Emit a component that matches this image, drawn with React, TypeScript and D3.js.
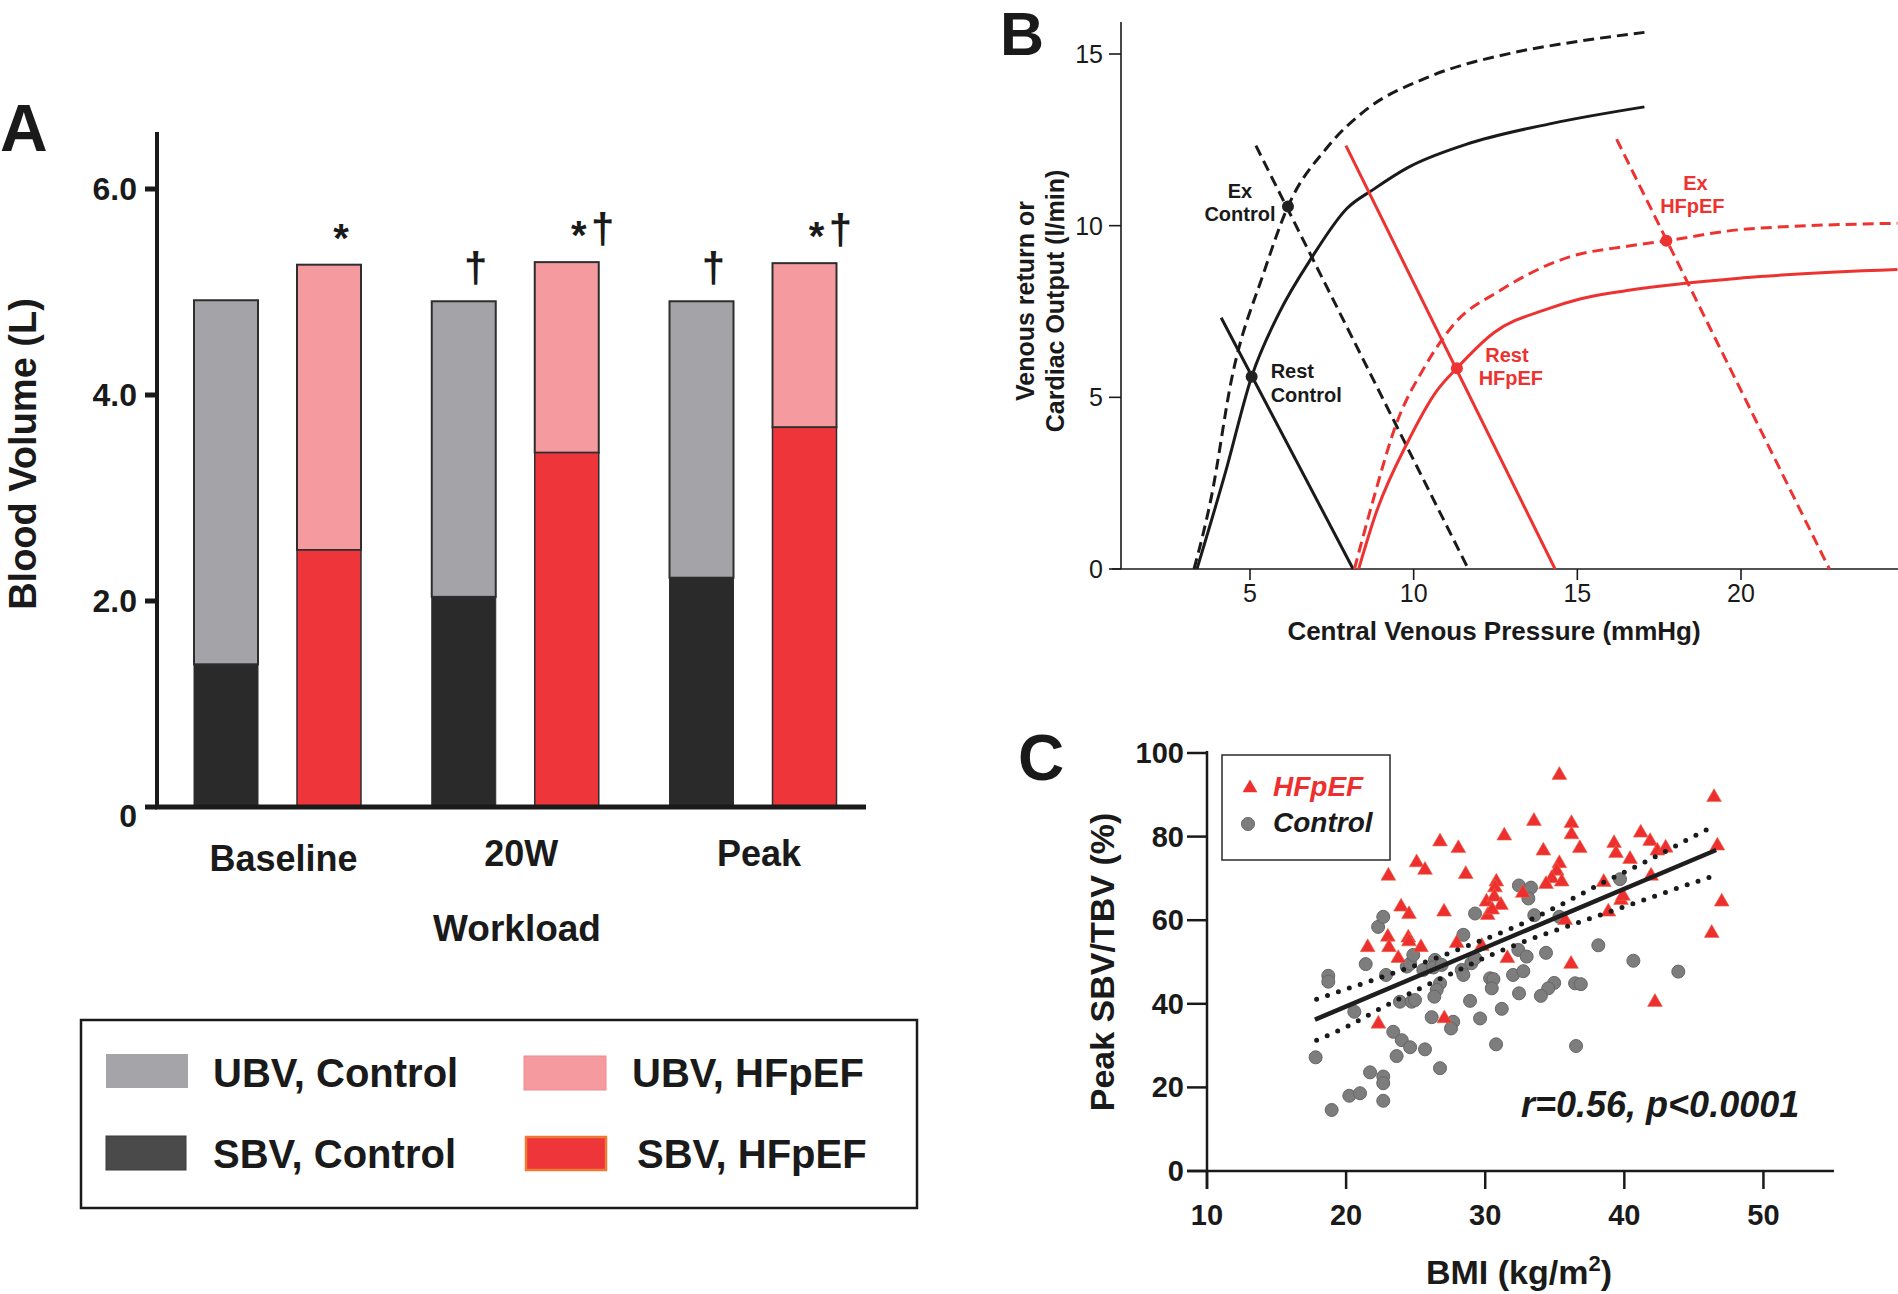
import React from "react";
import * as d3 from "d3";

const W = 1898;
const H = 1294;
const FONT = "'Liberation Sans', Arial, Helvetica, sans-serif";

// ---------------- Panel A data ----------------
const workloads = ["Baseline", "20W", "Peak"];
const controlTotal = [4.92, 4.91, 4.91];
const controlSBV = [1.385, 2.04, 2.226];
const hfpefTotal = [5.265, 5.29, 5.28];
const hfpefSBV = [2.495, 3.44, 3.686];
const controlMarks = ["", "†", "†"];
const hfpefMarks = ["*", "*†", "*†"];
const volumeTicks = [0, 2, 4, 6];
const volumeTickLabels = ["0", "2.0", "4.0", "6.0"];
const legendALabels = ["UBV, Control", "SBV, Control", "UBV, HFpEF", "SBV, HFpEF"];

// ---------------- Panel B data ----------------
const cvpTicks = [5, 10, 15, 20];
const coTicks = [0, 5, 10, 15];
const restControlCF: [number, number][] = [
  [3.38, 0], [4.26, 2.85], [5.05, 5.6], [5.88, 7.44], [6.9, 9.09], [7.96, 10.5],
  [8.76, 11.05], [9.82, 11.69], [11.58, 12.36], [14.23, 12.98], [17.05, 13.46],
];
const exControlCF: [number, number][] = [
  [3.29, 0], [3.82, 2.1], [4.44, 5.54], [5.41, 8.6], [6.16, 10.56], [7.35, 12.27],
  [8.58, 13.4], [10.35, 14.29], [13.0, 15.03], [14.76, 15.33], [17.05, 15.63],
];
const restHfpefCF: [number, number][] = [
  [8.32, 0], [8.85, 1.63], [9.82, 3.7], [10.7, 5.18], [11.32, 5.85], [12.46, 6.89],
  [14.05, 7.56], [15.11, 7.87], [16.52, 8.11], [20.05, 8.48], [24.78, 8.72],
];
const exHfpefCF: [number, number][] = [
  [8.19, 0], [8.76, 2.0], [9.46, 4.2], [10.35, 5.91], [11.23, 7.13], [12.64, 8.11],
  [14.76, 9.09], [16.52, 9.4], [17.72, 9.56], [20.05, 9.89], [24.78, 10.07],
];
const restControlVR: [number, number][] = [[4.12, 7.32], [8.15, 0]];
const exControlVR: [number, number][] = [[5.18, 12.33], [11.67, 0]];
const restHfpefVR: [number, number][] = [[7.93, 12.33], [14.32, 0]];
const exHfpefVR: [number, number][] = [[16.2, 12.52], [22.7, 0]];
const restControlPt: [number, number] = [5.05, 5.6];
const exControlPt: [number, number] = [6.16, 10.56];
const restHfpefPt: [number, number] = [11.32, 5.85];
const exHfpefPt: [number, number] = [17.72, 9.56];

// ---------------- Panel C data ----------------
const bmiTicks = [10, 20, 30, 40, 50];
const ratioTicks = [0, 20, 40, 60, 80, 100];
const controlBMI = [
  18.72, 18.72, 17.81, 18.96, 20.23, 21.0, 20.59, 21.41, 22.3, 22.67, 21.72, 22.67,
  22.67, 22.67, 22.87, 23.39, 23.63, 24.0, 24.6, 25.67, 23.87, 24.71, 24.95, 24.36,
  24.6, 24.83, 25.55, 26.39, 26.27, 26.87, 26.75, 26.51, 26.34, 26.15, 26.75, 27.7,
  27.54, 28.31, 28.43, 28.43, 28.91, 29.0, 29.27, 29.27, 29.63, 30.35, 30.59, 30.47,
  30.78, 31.19, 32.0, 32.38, 32.43, 32.42, 33.29, 33.1, 32.98, 32.74, 33.53, 34.37,
  34.96, 34.53, 34.0, 35.33, 36.46, 36.87, 36.53, 38.13, 39.69, 40.65, 43.88,
];
const controlRatio = [
  46.7, 45.3, 27.2, 14.6, 18.0, 18.6, 38.1, 49.5, 58.4, 60.8, 23.6, 22.6,
  21.0, 16.8, 46.9, 33.3, 27.5, 31.3, 29.6, 29.1, 40.5, 40.5, 40.9, 48.9,
  49.6, 51.7, 48.1, 50.5, 48.7, 49.3, 44.9, 43.3, 41.7, 36.8, 24.6, 35.7,
  34.1, 48.1, 46.9, 56.5, 40.7, 49.7, 50.9, 61.6, 36.5, 46.1, 45.9, 43.7,
  30.3, 38.8, 46.9, 52.9, 42.5, 68.3, 67.8, 65.2, 51.3, 47.8, 61.2, 52.2,
  45.0, 43.7, 41.9, 60.8, 44.9, 44.7, 29.9, 54.0, 69.8, 50.3, 47.7,
];
const hfpefBMI = [
  35.33, 46.45, 33.5, 36.2, 36.2, 31.37, 41.18, 41.85, 39.26, 26.75, 28.07, 34.18,
  36.8, 39.4, 42.37, 42.97, 46.69, 40.41, 25.07, 25.67, 35.33, 35.14, 23.04, 28.6,
  41.92, 34.78, 34.37, 35.5, 38.52, 30.8, 30.7, 30.09, 30.65, 31.13, 30.18, 30.5,
  39.76, 39.9, 38.85, 47.0, 23.95, 24.52, 27.04, 35.74, 23.0, 24.47, 46.28, 21.55,
  23.08, 25.38, 24.52, 27.95, 29.75, 23.75, 31.59, 36.17, 42.2, 22.32, 27.06, 32.7,
];
const hfpefRatio = [
  94.7, 89.4, 83.7, 83.2, 80.5, 80.2, 80.9, 78.9, 78.4, 78.8, 77.2, 76.6,
  77.2, 76.0, 76.6, 77.3, 77.8, 74.6, 73.8, 72.0, 73.6, 71.8, 70.6, 71.0,
  70.6, 70.0, 68.6, 69.2, 69.1, 69.2, 67.8, 64.4, 65.6, 63.6, 61.2, 62.5,
  64.8, 65.8, 62.0, 64.4, 63.2, 61.4, 62.0, 60.0, 56.0, 55.8, 56.9, 53.5,
  53.5, 53.5, 54.9, 54.5, 53.8, 50.9, 50.9, 49.5, 40.4, 35.2, 36.5, 66.5,
];
const fitLine: [number, number][] = [[17.76, 36.2], [46.6, 76.8]];
const ciUpper: [number, number][] = [
  [17.88, 41.1], [21.24, 44.9], [24.5, 48.6], [27.23, 51.9], [29.6, 55.0], [32.14, 58.4],
  [35.37, 63.6], [38.6, 69.2], [41.77, 74.4], [44.96, 80.0], [46.6, 82.8],
];
const ciLower: [number, number][] = [
  [17.88, 31.3], [20.28, 34.9], [22.6, 39.1], [25.07, 43.3], [27.47, 47.1], [30.7, 52.1],
  [34.9, 57.4], [37.46, 60.3], [41.72, 65.2], [45.08, 69.1], [46.8, 71.0],
];

// ---------------- Colours ----------------
const C_GRAY = "#a4a3a8";
const C_DARK = "#2a2a2a";
const C_PINK = "#f59b9f";
const C_RED = "#ee353a";
const C_BRED = "#ec3331";

export default function App() {
  // ---- Panel A scales ----
  const yA = d3.scaleLinear().domain([0, 6]).range([807, 189]);
  const xA = d3.scalePoint<string>().domain(workloads).range([277.5, 753]);
  const off = 51.5;
  const bw = 64;

  // ---- Panel B scales ----
  const xB = d3.scaleLinear().domain([5, 20]).range([1250, 1741]);
  const yB = d3.scaleLinear().domain([0, 15]).range([569, 54]);
  const curveB = d3
    .line<[number, number]>()
    .x((d) => xB(d[0]))
    .y((d) => yB(d[1]))
    .curve(d3.curveMonotoneX);
  const lineB = d3
    .line<[number, number]>()
    .x((d) => xB(d[0]))
    .y((d) => yB(d[1]));

  // ---- Panel C scales ----
  const xC = d3.scaleLinear().domain([10, 55]).range([1207, 1833]);
  const yC = d3.scaleLinear().domain([0, 100]).range([1171, 753]);
  const lineC = d3
    .line<[number, number]>()
    .x((d) => xC(d[0]))
    .y((d) => yC(d[1]))
    .curve(d3.curveMonotoneX);
  const tri = d3.symbol(d3.symbolTriangle, 95)() as string;

  const renderMarks = (mark: string, cx: number, top: number, key: string) => {
    const chars = mark.split("");
    const n = chars.length;
    const center = cx + 12 + (n - 1) * 12;
    return chars.map((ch, i) => (
      <text
        key={key + i}
        x={center + (i - (n - 1) / 2) * 24}
        y={ch === "*" ? top - 13 : top - 19}
        textAnchor="middle"
        fontSize={ch === "*" ? 40 : 42}
        fontWeight="bold"
        fill="#1a1a1a"
      >
        {ch}
      </text>
    ));
  };

  const bPoints: { p: [number, number]; c: string }[] = [
    { p: restControlPt, c: "#222" },
    { p: exControlPt, c: "#222" },
    { p: restHfpefPt, c: C_BRED },
    { p: exHfpefPt, c: C_BRED },
  ];

  return (
    <svg
      width={W}
      height={H}
      style={{ position: "absolute", left: 0, top: 0, background: "#fff" }}
      fontFamily={FONT}
    >
      <rect x={0} y={0} width={W} height={H} fill="#fff" />

      {/* ================= PANEL A ================= */}
      <text x={0} y={151} fontSize={66} fontWeight="bold" fill="#1a1a1a">A</text>

      {workloads.map((w, i) => {
        const cx = xA(w) as number;
        const xc = cx - off - bw / 2;
        const xh = cx + off - bw / 2;
        return (
          <g key={w}>
            <rect x={xc} y={yA(controlTotal[i])} width={bw} height={yA(controlSBV[i]) - yA(controlTotal[i])} fill={C_GRAY} stroke="#2e2e2e" strokeWidth={2} />
            <rect x={xc} y={yA(controlSBV[i])} width={bw} height={yA(0) - yA(controlSBV[i])} fill={C_DARK} stroke="#2e2e2e" strokeWidth={1} />
            <rect x={xh} y={yA(hfpefTotal[i])} width={bw} height={yA(hfpefSBV[i]) - yA(hfpefTotal[i])} fill={C_PINK} stroke="#2e2e2e" strokeWidth={2} />
            <rect x={xh} y={yA(hfpefSBV[i])} width={bw} height={yA(0) - yA(hfpefSBV[i])} fill={C_RED} stroke="#2e2e2e" strokeWidth={1.5} />
            {renderMarks(controlMarks[i], cx - off, yA(controlTotal[i]), w + "c")}
            {renderMarks(hfpefMarks[i], cx + off, yA(hfpefTotal[i]), w + "h")}
            <text x={cx + 6} y={i === 0 ? 871 : 866} textAnchor="middle" fontSize={36} fontWeight="bold" fill="#1a1a1a">{w}</text>
          </g>
        );
      })}

      {/* axes A */}
      <line x1={157} x2={157} y1={132} y2={809} stroke="#1a1a1a" strokeWidth={4} />
      <line x1={155} x2={866} y1={yA(0)} y2={yA(0)} stroke="#1a1a1a" strokeWidth={5} />
      {volumeTicks.map((t, i) => (
        <g key={"ta" + t}>
          <line x1={145} x2={157} y1={yA(t)} y2={yA(t)} stroke="#1a1a1a" strokeWidth={5} />
          <text x={137} y={yA(t) + (t === 0 ? 20 : 11)} textAnchor="end" fontSize={32} fontWeight="bold" fill="#1a1a1a">
            {volumeTickLabels[i]}
          </text>
        </g>
      ))}
      <text
        transform={`translate(36,454) rotate(-90)`}
        textAnchor="middle"
        fontSize={38}
        fontWeight="bold"
        fill="#1a1a1a"
      >
        Blood Volume (L)
      </text>
      <text x={517} y={941} textAnchor="middle" fontSize={37} fontWeight="bold" fill="#1a1a1a">Workload</text>

      {/* Legend A */}
      <rect x={81} y={1020} width={836} height={188} fill="none" stroke="#1a1a1a" strokeWidth={2.5} />
      <rect x={106} y={1054} width={82} height={34} fill="#a5a5a9" />
      <rect x={106} y={1136} width={80} height={34} fill="#4a4a4a" stroke="#3a3a3a" strokeWidth={1} />
      <rect x={524} y={1056} width={82} height={34} fill="#f59a9e" stroke="#f38a90" strokeWidth={1} />
      <rect x={526} y={1137} width={80} height={33} fill={C_RED} stroke="#ef7a35" strokeWidth={2.5} />
      <text x={213} y={1087} fontSize={40} fontWeight="bold" fill="#1a1a1a">{legendALabels[0]}</text>
      <text x={213} y={1168} fontSize={40} fontWeight="bold" fill="#1a1a1a">{legendALabels[1]}</text>
      <text x={632} y={1087} fontSize={40} fontWeight="bold" fill="#1a1a1a">{legendALabels[2]}</text>
      <text x={637} y={1168} fontSize={40} fontWeight="bold" fill="#1a1a1a">{legendALabels[3]}</text>

      {/* ================= PANEL B ================= */}
      <text x={1000} y={55} fontSize={61} fontWeight="bold" fill="#1a1a1a">B</text>

      <line x1={1121} x2={1121} y1={22} y2={569} stroke="#1a1a1a" strokeWidth={1.6} />
      <line x1={1112} x2={1898} y1={569} y2={569} stroke="#1a1a1a" strokeWidth={1.6} />
      {coTicks.map((t) => (
        <g key={"tb" + t}>
          <line x1={1109} x2={1121} y1={yB(t)} y2={yB(t)} stroke="#1a1a1a" strokeWidth={1.6} />
          <text x={1103} y={yB(t) + 9} textAnchor="end" fontSize={25} fill="#1a1a1a">{t}</text>
        </g>
      ))}
      {cvpTicks.map((t) => (
        <g key={"tbx" + t}>
          <line x1={xB(t)} x2={xB(t)} y1={569} y2={580} stroke="#1a1a1a" strokeWidth={1.6} />
          <text x={xB(t)} y={602} textAnchor="middle" fontSize={25} fill="#1a1a1a">{t}</text>
        </g>
      ))}
      <text transform="translate(1034,301) rotate(-90)" textAnchor="middle" fontSize={25} fontWeight="bold" fill="#1a1a1a">Venous return or</text>
      <text transform="translate(1064,301) rotate(-90)" textAnchor="middle" fontSize={25} fontWeight="bold" fill="#1a1a1a">Cardiac Output (l/min)</text>
      <text x={1494} y={640} textAnchor="middle" fontSize={26} fontWeight="bold" fill="#1a1a1a">Central Venous Pressure (mmHg)</text>

      {/* curves */}
      <path d={curveB(exControlCF) || ""} fill="none" stroke="#1a1a1a" strokeWidth={3} strokeDasharray="11 6" />
      <path d={curveB(restControlCF) || ""} fill="none" stroke="#1a1a1a" strokeWidth={3} />
      <path d={lineB(restControlVR) || ""} fill="none" stroke="#1a1a1a" strokeWidth={3} />
      <path d={lineB(exControlVR) || ""} fill="none" stroke="#1a1a1a" strokeWidth={3} strokeDasharray="11 6" />
      <path d={curveB(exHfpefCF) || ""} fill="none" stroke={C_BRED} strokeWidth={3} strokeDasharray="11 6" />
      <path d={curveB(restHfpefCF) || ""} fill="none" stroke={C_BRED} strokeWidth={3} />
      <path d={lineB(restHfpefVR) || ""} fill="none" stroke={C_BRED} strokeWidth={3} />
      <path d={lineB(exHfpefVR) || ""} fill="none" stroke={C_BRED} strokeWidth={3} strokeDasharray="11 6" />
      {bPoints.map((b, i) => (
        <circle key={"bp" + i} cx={xB(b.p[0])} cy={yB(b.p[1])} r={6} fill={b.c} />
      ))}
      {/* point labels */}
      <g fontSize={20} fontWeight="bold">
        <text x={xB(exControlPt[0]) - 48} y={yB(exControlPt[1]) - 8} textAnchor="middle" fill="#1a1a1a">Ex</text>
        <text x={xB(exControlPt[0]) - 48} y={yB(exControlPt[1]) + 15} textAnchor="middle" fill="#1a1a1a">Control</text>
        <text x={xB(restControlPt[0]) + 19} y={yB(restControlPt[1]) + 1} fill="#1a1a1a">Rest</text>
        <text x={xB(restControlPt[0]) + 19} y={yB(restControlPt[1]) + 25} fill="#1a1a1a">Control</text>
        <text x={xB(restHfpefPt[0]) + 50} y={yB(restHfpefPt[1]) - 6} textAnchor="middle" fill={C_BRED}>Rest</text>
        <text x={xB(restHfpefPt[0]) + 54} y={yB(restHfpefPt[1]) + 17} textAnchor="middle" fill={C_BRED}>HFpEF</text>
        <text x={xB(exHfpefPt[0]) + 29} y={yB(exHfpefPt[1]) - 51} textAnchor="middle" fill={C_BRED}>Ex</text>
        <text x={xB(exHfpefPt[0]) + 26} y={yB(exHfpefPt[1]) - 28} textAnchor="middle" fill={C_BRED}>HFpEF</text>
      </g>

      {/* ================= PANEL C ================= */}
      <text x={1018} y={780} fontSize={64} fontWeight="bold" fill="#1a1a1a">C</text>

      {/* scatter */}
      {controlBMI.map((b, i) => (
        <circle key={"cc" + i} cx={xC(b)} cy={yC(controlRatio[i])} r={6.5} fill="#7d7d7d" stroke="#666" strokeWidth={1} />
      ))}
      {hfpefBMI.map((b, i) => (
        <path key={"ht" + i} d={tri} transform={`translate(${xC(b)},${yC(hfpefRatio[i])})`} fill="#ee2f2f" stroke="#e86a4a" strokeWidth={0.6} />
      ))}
      <path d={lineC(ciUpper) || ""} fill="none" stroke="#1a1a1a" strokeWidth={5} strokeLinecap="round" strokeDasharray="0 11.5" />
      <path d={lineC(ciLower) || ""} fill="none" stroke="#1a1a1a" strokeWidth={5} strokeLinecap="round" strokeDasharray="0 11.5" />
      <path d={lineC(fitLine) || ""} fill="none" stroke="#1e1e1e" strokeWidth={4.5} />

      {/* axes C */}
      <line x1={1207} x2={1207} y1={751} y2={1189} stroke="#1a1a1a" strokeWidth={2.5} />
      <line x1={1187} x2={1834} y1={1171} y2={1171} stroke="#1a1a1a" strokeWidth={2.5} />
      {ratioTicks.map((t) => (
        <g key={"tc" + t}>
          <line x1={1187} x2={1207} y1={yC(t)} y2={yC(t)} stroke="#1a1a1a" strokeWidth={2.5} />
          <text x={1184} y={yC(t) + 10} textAnchor="end" fontSize={29} fontWeight="bold" fill="#1a1a1a">{t}</text>
        </g>
      ))}
      {bmiTicks.map((t) => (
        <g key={"tcx" + t}>
          <line x1={xC(t)} x2={xC(t)} y1={1171} y2={1189} stroke="#1a1a1a" strokeWidth={2.5} />
          <text x={xC(t)} y={1225} textAnchor="middle" fontSize={29} fontWeight="bold" fill="#1a1a1a">{t}</text>
        </g>
      ))}
      <text transform="translate(1114,962) rotate(-90)" textAnchor="middle" fontSize={34} fontWeight="bold" fill="#1a1a1a">Peak SBV/TBV (%)</text>
      <text x={1519} y={1284} textAnchor="middle" fontSize={34} fontWeight="bold" fill="#1a1a1a">
        <tspan>BMI (kg/m</tspan>
        <tspan dy={-13} fontSize={22}>2</tspan>
        <tspan dy={13}>)</tspan>
      </text>
      <text x={1521} y={1117} fontSize={36} fontWeight="bold" fontStyle="italic" fill="#1a1a1a">r=0.56, p&lt;0.0001</text>

      {/* Legend C */}
      <rect x={1222} y={755} width={168} height={105} fill="#fff" stroke="#2a2a2a" strokeWidth={1.5} />
      <path d={tri} transform="translate(1250,788)" fill="#ee2f2f" />
      <circle cx={1248} cy={824} r={6.5} fill="#7d7d7d" stroke="#666" strokeWidth={1} />
      <text x={1273} y={796} fontSize={28} fontWeight="bold" fontStyle="italic" fill="#ee2f2f">HFpEF</text>
      <text x={1273} y={832} fontSize={28} fontWeight="bold" fontStyle="italic" fill="#1a1a1a">Control</text>
    </svg>
  );
}
